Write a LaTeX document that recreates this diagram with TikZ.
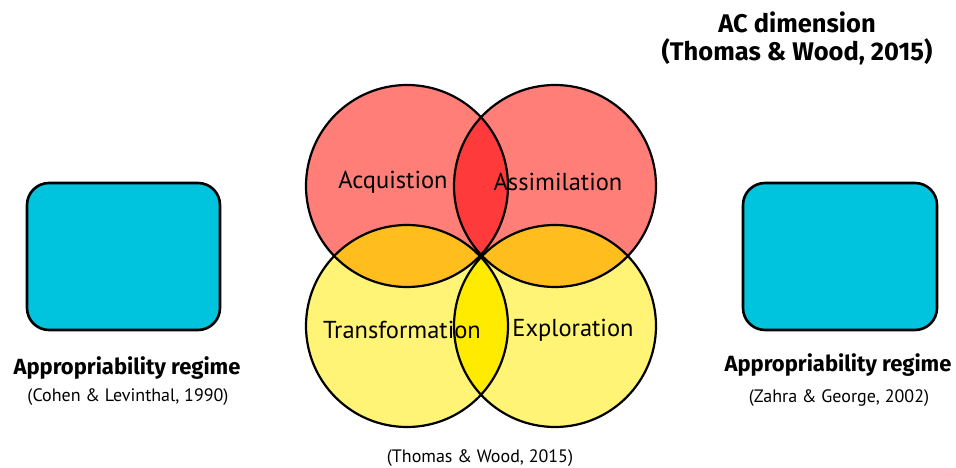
\documentclass[tikz,border=0pt]{standalone}
\usepackage{fontspec}
\setmainfont{PT Sans}
\newfontfamily\dinfont{Fira Sans}
\definecolor{salmon}{HTML}{FF7F78}
\definecolor{redov}{HTML}{FF3A3A}
\definecolor{lyellow}{HTML}{FFF475}
\definecolor{yov}{HTML}{FFEB00}
\definecolor{orov}{HTML}{FFBE1E}
\definecolor{cyanbox}{HTML}{00C4DE}
\tikzset{
  ring/.style={draw=black, line width=2.2pt},
  lbl/.style={font=\fontsize{24.5}{28}\selectfont, inner sep=0pt},
  boxst/.style={draw=black, line width=2.6pt, fill=cyanbox, rounded corners=22pt},
  bold/.style={font=\dinfont\bfseries\fontsize{22}{26}\selectfont, inner sep=0pt},
  cite/.style={font=\fontsize{18}{22}\selectfont, inner sep=0pt},
  title/.style={font=\dinfont\bfseries\fontsize{25.5}{30}\selectfont, inner sep=0pt},
}
\begin{document}
\begin{tikzpicture}[x=1pt,y=1pt]
\useasboundingbox (0,0) rectangle (956,468);
\def\R{101}
\coordinate (tl) at (407,282);
\coordinate (tr) at (555,282);
\coordinate (bl) at (407,142);
\coordinate (br) at (555,142);
% base fills
\fill[salmon] (tl) circle (\R);
\fill[salmon] (tr) circle (\R);
\fill[lyellow] (bl) circle (\R);
\fill[lyellow] (br) circle (\R);
% overlaps
\begin{scope}
  \clip (tl) circle (\R);
  \fill[redov] (tr) circle (\R);
  \fill[orov] (bl) circle (\R);
\end{scope}
\begin{scope}
  \clip (tr) circle (\R);
  \fill[orov] (br) circle (\R);
\end{scope}
\begin{scope}
  \clip (bl) circle (\R);
  \fill[yov] (br) circle (\R);
\end{scope}
% outlines
\draw[ring] (tl) circle (\R);
\draw[ring] (tr) circle (\R);
\draw[ring] (bl) circle (\R);
\draw[ring] (br) circle (\R);
% labels
\node[lbl] (acq) at (393,286) {Acquistion};
\node[lbl] (ass) at (558,286) {Assimilation};
\node[lbl] (tra) at (402,138) {Transformation};
\node[lbl] (exp) at (573,138) {Exploration};
% boxes
\draw[boxst] (27,138) rectangle (220,285);
\draw[boxst] (743,138) rectangle (937,285);
\node[bold] (lreg) at (127,100) {Appropriability regime};
\node[cite] (lcite) at (128,71) {(Cohen \& Levinthal, 1990)};
\node[bold] (rreg) at (838,103) {Appropriability regime};
\node[cite] (rcite) at (839,70) {(Zahra \& George, 2002)};
% top right title
\node[title] (acd) at (797,446) {AC dimension};
\node[title] (tw1) at (797,416) {(Thomas \& Wood, 2015)};
% bottom cite
\node[cite] (tw2) at (480,10) {(Thomas \& Wood, 2015)};
\end{tikzpicture}
\end{document}
